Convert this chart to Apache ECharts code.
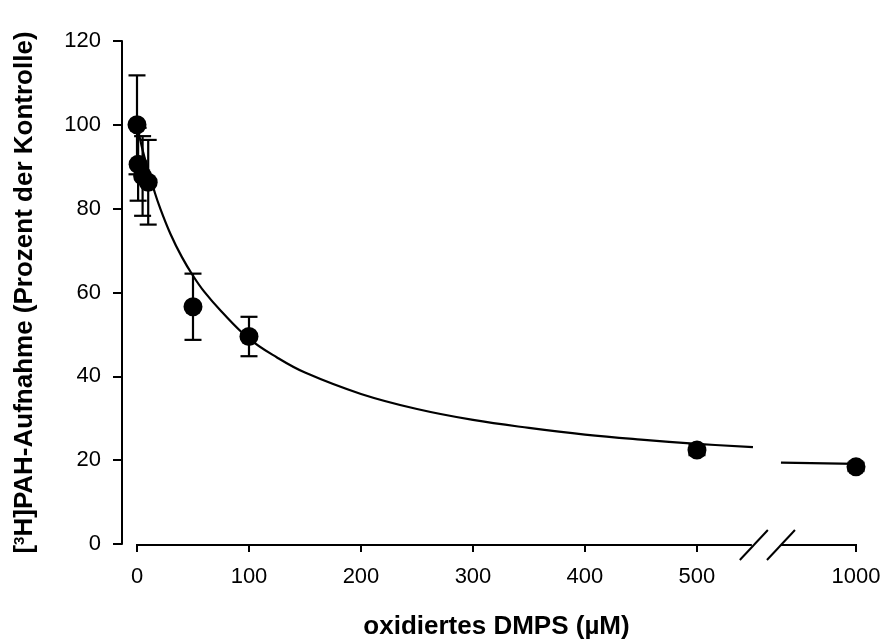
<!DOCTYPE html>
<html>
<head>
<meta charset="utf-8">
<script src="https://cdn.jsdelivr.net/npm/echarts@6/dist/echarts.min.js"></script>
<style>
html,body{margin:0;padding:0;background:#fff;}
#chart{width:885px;height:642px;}
</style>
</head>
<body>
<div id="chart"></div>
<script>
// ---- data ----
const conc = [0, 1, 5, 10, 50, 100, 500, 1000];
const uptake = [100, 90.6, 87.8, 86.3, 56.6, 49.5, 22.4, 18.4];
const sem = [11.8, 8.7, 9.5, 10.1, 7.9, 4.7, 1.2, 1.0];

// fitted curve (two segments, either side of the axis break)
const curveX1 = [0, 2, 5, 10, 15, 20, 30, 40, 50, 60, 75, 100, 125, 150, 200, 250, 300, 350, 400, 450, 500, 550];
const curveY1 = [100, 97.5, 94.0, 89.0, 84.6, 80.6, 73.9, 68.5, 64.0, 60.2, 55.6, 49.0, 44.5, 40.9, 35.8, 32.2, 29.6, 27.7, 26.1, 24.9, 23.9, 23.1];
const curveX2 = [933, 1000];
const curveY2 = [19.4, 19.1];

const xTicks = [0, 100, 200, 300, 400, 500, 1000];
const xTickLabels = ['0', '100', '200', '300', '400', '500', '1000'];

// axis break: real values >= breakTo are shifted left
const breakFrom = 550, breakTo = 933, breakGap = 25;
function disp(x) { return x >= breakTo ? x - (breakTo - breakFrom) + breakGap : x; }

const pts = conc.map((c, i) => [disp(c), uptake[i], uptake[i] - sem[i], uptake[i] + sem[i]]);
const seg1 = curveX1.map((x, i) => [disp(x), curveY1[i]]);
const seg2 = curveX2.map((x, i) => [disp(x), curveY2[i]]);
const xTickDisp = xTicks.map(disp);
const xMax = disp(1000);

const font = 'Liberation Sans, Arial, sans-serif';
const chart = echarts.init(document.getElementById('chart'), null, {renderer: 'canvas'});

const option = {
  animation: false,
  backgroundColor: '#fff',
  grid: {left: 137, right: 885 - 856, top: 41, bottom: 98},
  xAxis: {
    type: 'value', min: 0, max: xMax,
    axisLine: {show: false},
    splitLine: {show: false},
    axisTick: {show: true, length: 8, inside: false, customValues: xTickDisp, lineStyle: {color: '#000', width: 2}},
    axisLabel: {
      customValues: xTickDisp, margin: 22, color: '#000', fontSize: 22, fontFamily: font,
      formatter: v => { const i = xTickDisp.indexOf(v); return i >= 0 ? xTickLabels[i] : ''; }
    }
  },
  yAxis: {
    type: 'value', min: 0, max: 120, interval: 20, offset: 15,
    axisLine: {show: true, onZero: false, lineStyle: {color: '#000', width: 2}},
    splitLine: {show: false},
    axisTick: {show: true, length: 9, lineStyle: {color: '#000', width: 2}},
    axisLabel: {margin: 21, color: '#000', fontSize: 22, fontFamily: font},
    name: '[{sup|3}H]PAH-Aufnahme (Prozent der Kontrolle)',
    nameLocation: 'middle', nameGap: 84, nameRotate: 90,
    nameTextStyle: {
      color: '#000', fontSize: 26, fontWeight: 'bold', fontFamily: font,
      rich: {sup: {fontSize: 15, fontWeight: 'bold', color: '#000', fontFamily: font, verticalAlign: 'top', padding: [0, 0, 10, 0]}}
    }
  },
  series: [
    {
      type: 'custom', data: pts, z: 2,
      renderItem: (params, api) => {
        const x = api.value(0);
        const top = api.coord([x, api.value(3)]);
        const bot = api.coord([x, api.value(2)]);
        const w = 8.5;
        const st = {stroke: '#000', lineWidth: 2.2};
        return {type: 'group', children: [
          {type: 'line', shape: {x1: top[0], y1: top[1], x2: bot[0], y2: bot[1]}, style: st},
          {type: 'line', shape: {x1: top[0] - w, y1: top[1], x2: top[0] + w, y2: top[1]}, style: st},
          {type: 'line', shape: {x1: bot[0] - w, y1: bot[1], x2: bot[0] + w, y2: bot[1]}, style: st}
        ]};
      }
    },
    {type: 'line', data: seg1, smooth: 0.4, showSymbol: false, lineStyle: {color: '#000', width: 2.2}, z: 3},
    {type: 'line', data: seg2, smooth: false, showSymbol: false, lineStyle: {color: '#000', width: 2.2}, z: 3},
    {type: 'scatter', data: pts.map(p => [p[0], p[1]]), symbol: 'circle', symbolSize: 19, itemStyle: {color: '#000', opacity: 1}, z: 4}
  ]
};
chart.setOption(option);

// x axis line with break marks, positioned through the axis scale
const p0 = chart.convertToPixel({gridIndex: 0}, [0, 0]);
const pA = chart.convertToPixel({gridIndex: 0}, [breakFrom - 1, 0]);
const pB = chart.convertToPixel({gridIndex: 0}, [breakFrom + breakGap, 0]);
const pE = chart.convertToPixel({gridIndex: 0}, [xMax, 0]);
const ay = p0[1] + 1;
const ls = {stroke: '#000', lineWidth: 2};
const sx = 14, sy = 15;
chart.setOption({graphic: [
  {type: 'line', shape: {x1: p0[0] - 1, y1: ay, x2: pA[0], y2: ay}, style: ls, z: 10},
  {type: 'line', shape: {x1: pB[0], y1: ay, x2: pE[0] + 1, y2: ay}, style: ls, z: 10},
  {type: 'line', shape: {x1: pA[0] + 2 - sx, y1: ay + sy, x2: pA[0] + 2 + sx, y2: ay - sy}, style: ls, z: 10},
  {type: 'line', shape: {x1: pB[0] - sx, y1: ay + sy, x2: pB[0] + sx, y2: ay - sy}, style: ls, z: 10},
  {type: 'text', x: (p0[0] + pE[0]) / 2, y: 627, style: {text: 'oxidiertes DMPS (µM)', font: 'bold 26px ' + font, fill: '#000', textAlign: 'center', textVerticalAlign: 'middle'}, z: 10}
]});
</script>
</body>
</html>
